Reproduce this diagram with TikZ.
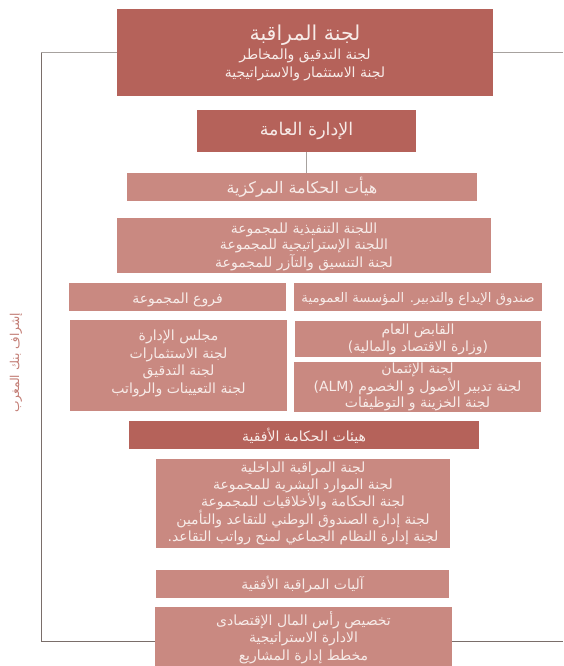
\documentclass[tikz,border=0pt]{standalone}
\usepackage{fontspec}
\newfontfamily\arabicfont[Script=Arabic]{DejaVu Sans}
\TeXXeTstate=1
\newcommand\arl[1]{\beginR #1\endR}
\newcommand\dropby[2]{\raisebox{#1}[\height][\depth]{#2}}
\definecolor{darkbox}{HTML}{B5625A}
\definecolor{lightbox}{HTML}{C98981}
\definecolor{boxtext}{HTML}{F7EBE8}
\definecolor{linegray}{HTML}{A7A29F}
\definecolor{linedark}{HTML}{7A6E6A}
\definecolor{labelc}{HTML}{C27C74}
\begin{document}
\begin{tikzpicture}[x=1pt,y=-1pt,
  box/.style={rectangle, inner sep=0pt, text=boxtext, align=center,
    font=\arabicfont\fontsize{14}{17}\selectfont},
  darkb/.style={box, fill=darkbox},
  lightb/.style={box, fill=lightbox},
  bracket/.style={draw=linedark, line width=1pt},
  toplink/.style={draw=linegray, line width=1.2pt},
  link/.style={draw=linegray, line width=1.2pt}]
\useasboundingbox (0,0) rectangle (563,666);

\node[darkb, minimum width=376pt, minimum height=87pt,
  font=\arabicfont\fontsize{14}{18}\selectfont] (top) at (305,52.5)
  {{\fontsize{20.5}{22}\selectfont\arl{لجنة المراقبة}}\\[1pt]
   \arl{لجنة التدقيق والمخاطر}\\
   \arl{لجنة الاستثمار والاستراتيجية}};
\node[darkb, minimum width=219pt, minimum height=42pt,
  font=\arabicfont\fontsize{17.5}{20}\selectfont] (admin) at (306.5,131)
  {\arl{الإدارة العامة}};
\node[lightb, minimum width=350pt, minimum height=28pt,
  font=\arabicfont\fontsize{16}{18}\selectfont] (central) at (302,187)
  {\arl{هيأت الحكامة المركزية}};
\node[lightb, minimum width=374pt, minimum height=55pt,
  font=\arabicfont\fontsize{14}{16.3}\selectfont] (group) at (304,245.5)
  {\dropby{-2pt}{\begin{tabular}{@{}c@{}}\arl{اللجنة التنفيذية للمجموعة}\\
   \arl{اللجنة الإستراتيجية للمجموعة}\\
   \arl{لجنة التنسيق والتآزر للمجموعة}\end{tabular}}};
\node[lightb, minimum width=217pt, minimum height=28pt] (branches) at (177.5,297)
  {\dropby{-2.5pt}{\arl{فروع المجموعة}}};
\node[lightb, minimum width=248pt, minimum height=28pt,
  font=\arabicfont\fontsize{13.2}{16}\selectfont] (cdg) at (418,297)
  {\dropby{-2.5pt}{\arl{صندوق الإيداع والتدبير\beginL.\endL{} المؤسسة العمومية}}};
\node[lightb, minimum width=217pt, minimum height=91pt,
  font=\arabicfont\fontsize{14}{17.5}\selectfont] (board) at (178.5,365.5)
  {\dropby{2pt}{\begin{tabular}{@{}c@{}}\arl{مجلس الإدارة}\\
   \arl{لجنة الاستثمارات}\\
   \arl{لجنة التدقيق}\\
   \arl{لجنة التعيينات والرواتب}\end{tabular}}};
\node[lightb, minimum width=246pt, minimum height=36pt] (treasurer) at (418,339)
  {\arl{القابض العام}\\
   \arl{(وزارة الاقتصاد والمالية)}};
\node[lightb, minimum width=247pt, minimum height=50pt,
  font=\arabicfont\fontsize{14}{16.7}\selectfont] (credit) at (417.5,387)
  {\arl{لجنة الإئتمان}\\
   \arl{لجنة تدبير الأصول و الخصوم \beginL(ALM)\endL}\\
   \arl{لجنة الخزينة و التوظيفات}};
\node[darkb, minimum width=350pt, minimum height=28pt] (horiz) at (304,435)
  {\dropby{-1pt}{\arl{هيئات الحكامة الأفقية}}};
\node[lightb, minimum width=294pt, minimum height=89pt,
  font=\arabicfont\fontsize{14}{16.8}\selectfont] (hcomm) at (303,503.5)
  {\arl{لجنة المراقبة الداخلية}\\
   \arl{لجنة الموارد البشرية للمجموعة}\\
   \arl{لجنة الحكامة والأخلاقيات للمجموعة}\\
   \arl{لجنة إدارة الصندوق الوطني للتقاعد والتأمين}\\
   \arl{لجنة إدارة النظام الجماعي لمنح رواتب التقاعد\beginL.\endL}};
\node[lightb, minimum width=293pt, minimum height=28pt] (mech) at (302.5,584)
  {\dropby{-1pt}{\arl{آليات المراقبة الأفقية}}};
\node[lightb, minimum width=297pt, minimum height=59pt,
  font=\arabicfont\fontsize{14}{17.5}\selectfont] (capital) at (303.5,636.5)
  {\dropby{-2pt}{\begin{tabular}{@{}c@{}}\arl{تخصيص رأس المال الإقتصادى}\\
   \arl{الادارة الاستراتيجية}\\
   \arl{مخطط إدارة المشاريع}\end{tabular}}};

\node[rotate=90, text=labelc, inner sep=0pt,
  font=\arabicfont\fontsize{12.2}{14}\selectfont] (bam) at (16,363)
  {\arl{إشراف بنك المغرب}};

\coordinate (tl) at (41,52.7);
\coordinate (bl) at (41,641);
\coordinate (tr) at (563,52.7);
\coordinate (br) at (563,641);

\draw[toplink] (top.west |- tl) -- (tl);
\draw[toplink] (top.east |- tr) -- (tr);
\draw[bracket] (tl) -- (bl) -- (capital.west |- bl);
\draw[bracket] (capital.east |- br) -- (br);
\draw[link] (admin.south) -- (central.north -| admin.south);
\end{tikzpicture}
\end{document}
